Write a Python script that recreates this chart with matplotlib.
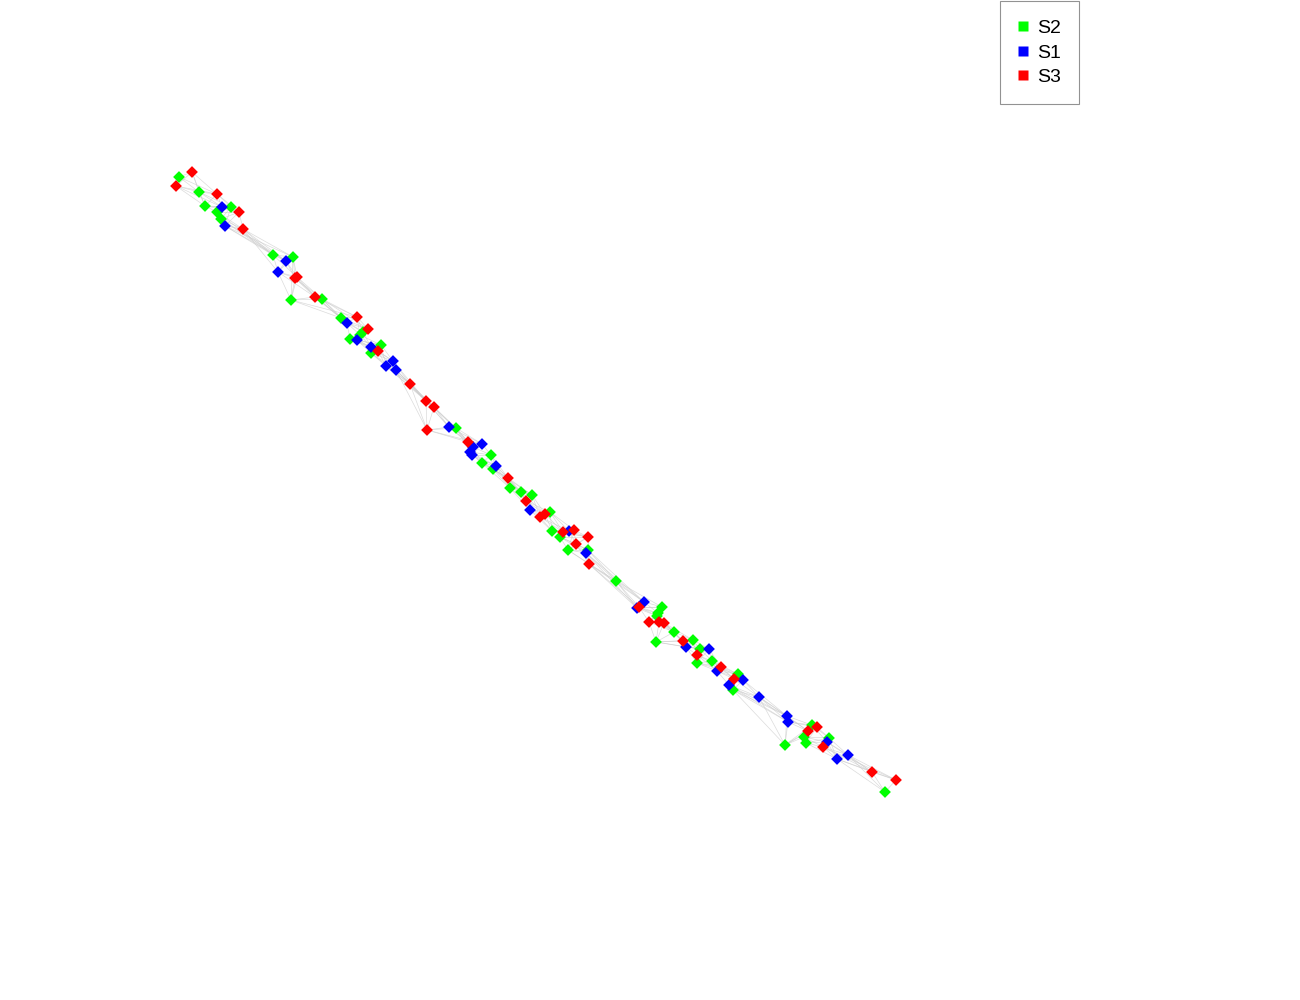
import matplotlib.pyplot as plt
from matplotlib.lines import Line2D

plt.rcParams['font.family'] = ['Liberation Sans', 'DejaVu Sans']

# node layout (x, y in pixel space of the original picture) and group, in order along the chain
node_x = [179, 192, 176, 199, 217, 205, 222, 231, 239, 217, 221, 225, 243,
          273, 286, 293, 278, 297, 295, 291, 315, 322,
          341, 357, 347, 368, 363, 360, 350, 357, 371, 381, 378, 371,
          393, 386, 396, 410, 426, 434, 427, 449, 456,
          468, 482, 473, 470, 472, 491, 482, 496, 493, 508,
          510, 521, 532, 526, 530, 545, 540, 550, 552,
          563, 569, 574, 588, 560, 576, 568, 588, 586, 589, 616,
          644, 637, 639, 662, 658, 657, 649, 659, 664, 674, 656,
          683, 693, 686, 700, 709, 697, 697, 712, 721, 717, 738,
          734, 743, 729, 733, 759,
          787, 788, 785, 808, 817, 812, 804, 806, 829, 827, 823,
          837, 848, 872, 896, 885]
node_y = [177, 172, 186, 192, 194, 206, 207, 207, 212, 212, 219, 226, 229,
          255, 261, 257, 272, 277, 278, 300, 297, 299,
          318, 317, 323, 329, 332, 335, 339, 340, 347, 345, 351, 353,
          361, 366, 370, 384, 401, 407, 430, 427, 428,
          442, 444, 447, 452, 455, 455, 463, 466, 469, 478,
          488, 492, 495, 501, 510, 514, 517, 512, 531,
          532, 531, 530, 537, 537, 544, 550, 550, 553, 564, 581,
          602, 608, 607, 607, 613, 616, 622, 622, 623, 632, 642,
          641, 640, 647, 649, 649, 655, 663, 661, 667, 671, 674,
          679, 680, 685, 690, 697,
          716, 722, 745, 731, 727, 725, 737, 743, 738, 742, 747,
          759, 755, 772, 780, 792]
node_group = ['S2', 'S3', 'S3', 'S2', 'S3', 'S2', 'S1', 'S2', 'S3', 'S2', 'S2', 'S1', 'S3',
              'S2', 'S1', 'S2', 'S1', 'S3', 'S3', 'S2', 'S3', 'S2',
              'S2', 'S3', 'S1', 'S3', 'S2', 'S2', 'S2', 'S1', 'S1', 'S2', 'S3', 'S2',
              'S1', 'S1', 'S1', 'S3', 'S3', 'S3', 'S3', 'S1', 'S2',
              'S3', 'S1', 'S1', 'S1', 'S1', 'S2', 'S2', 'S1', 'S2', 'S3',
              'S2', 'S2', 'S2', 'S3', 'S1', 'S3', 'S3', 'S2', 'S2',
              'S3', 'S1', 'S3', 'S3', 'S2', 'S3', 'S2', 'S2', 'S1', 'S3', 'S2',
              'S1', 'S1', 'S3', 'S2', 'S2', 'S2', 'S3', 'S3', 'S3', 'S2', 'S2',
              'S3', 'S2', 'S1', 'S2', 'S1', 'S3', 'S2', 'S2', 'S3', 'S1', 'S2',
              'S3', 'S1', 'S1', 'S2', 'S1',
              'S1', 'S1', 'S2', 'S3', 'S3', 'S2', 'S2', 'S2', 'S2', 'S1', 'S3',
              'S1', 'S1', 'S3', 'S3', 'S2']

colors = {'S2': '#00ff00', 'S1': '#0000ff', 'S3': '#ff0000'}
legend_order = ['S2', 'S1', 'S3']

n = len(node_x)
# neighbouring nodes along the chain are linked
edges = [(i, j) for i in range(n) for j in range(i + 1, min(i + 5, n))]

fig = plt.figure(figsize=(13, 10), dpi=100)
ax = fig.add_axes([0, 0, 1, 1])
ax.set_xlim(0, 1300)
ax.set_ylim(1000, 0)
ax.axis('off')

for i, j in edges:
    ax.plot([node_x[i], node_x[j]], [node_y[i], node_y[j]], color='#cccccc',
            linewidth=0.5, alpha=0.7, zorder=1)

for g in legend_order:
    xs = [x for x, gg in zip(node_x, node_group) if gg == g]
    ys = [y for y, gg in zip(node_y, node_group) if gg == g]
    ax.scatter(xs, ys, marker='D', s=36, color=colors[g], edgecolors='none', zorder=2)

# legend with square swatches, top edge at the figure border
handles = [Line2D([], [], linestyle='none', marker='s', markersize=7,
                  color=colors[g], markeredgecolor='none') for g in legend_order]
leg = fig.legend(handles, legend_order, loc='upper left',
                 bbox_to_anchor=(1000 / 1300, 0.999), borderaxespad=0,
                 fontsize=14, frameon=True, fancybox=False, edgecolor='#777777',
                 handlelength=0.5, handletextpad=0.45, labelspacing=0.35,
                 borderpad=0.95)
leg.get_frame().set_linewidth(0.8)

fig.savefig('out.png', dpi=100)
